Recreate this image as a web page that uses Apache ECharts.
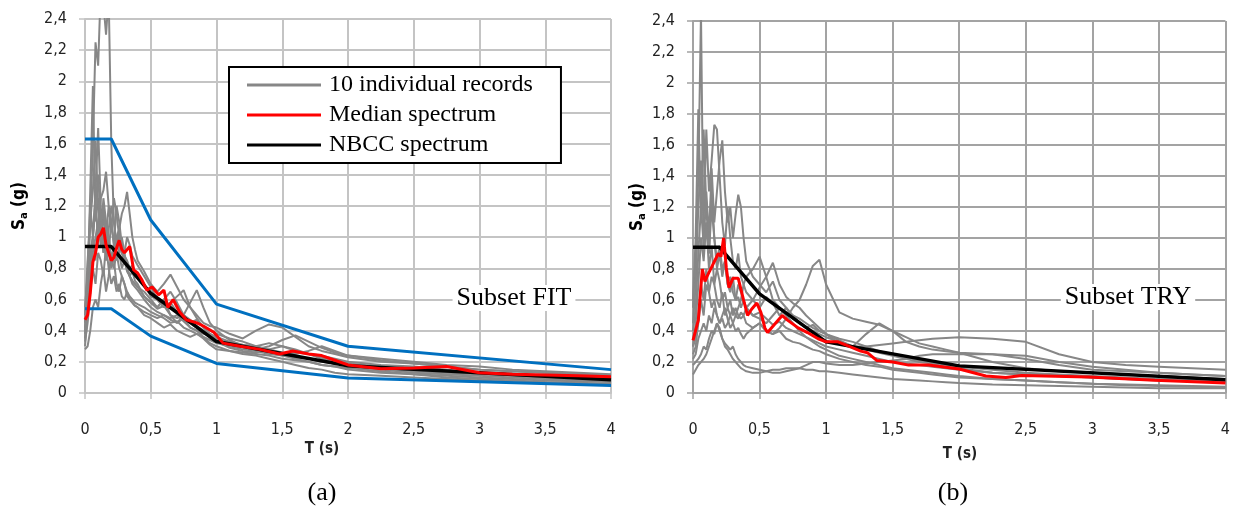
<!DOCTYPE html>
<html>
<head>
<meta charset="UTF-8">
<title>spectra</title>
<script src="https://cdn.jsdelivr.net/npm/echarts@6/dist/echarts.min.js"></script>
<style>
  body { margin: 0; padding: 0; background: #fff; }
  #app { width: 1233px; height: 508px; }
</style>
</head>
<body>
<div id="app"></div>
<script>
// periods (s) shared by the individual records
var periods = [
  0, 0.02, 0.04, 0.06, 0.08, 0.1, 0.12, 0.14, 0.16, 0.18, 0.2, 0.22, 0.24, 0.26, 0.28, 0.3, 0.32, 0.34, 0.36, 0.38, 0.4,
  0.45, 0.5, 0.55, 0.6, 0.65, 0.7, 0.75, 0.8, 0.85, 0.9, 0.95, 1.0,
  1.1, 1.2, 1.3, 1.4, 1.5, 1.6, 1.7, 1.8, 1.9, 2.0,
  2.25, 2.5, 2.75, 3.0, 3.25, 3.5, 3.75, 4.0
];

// (a) subset FIT - 10 individual records, Sa (g)
var fitRecords = [
  [0.42, 0.6, 1.1, 1.6, 2.25, 2.1, 2.6, 2.5, 2.3, 2.55, 1.6, 1.1, 0.95, 1.0, 0.9, 0.85, 0.8, 0.75, 0.78, 0.72, 0.7,
   0.62, 0.58, 0.55, 0.6, 0.5, 0.45, 0.48, 0.42, 0.4, 0.38, 0.37, 0.35,
   0.32, 0.3, 0.28, 0.26, 0.25, 0.23, 0.22, 0.2, 0.19, 0.18,
   0.16, 0.14, 0.13, 0.12, 0.11, 0.1, 0.09, 0.085],
  [0.35, 0.7, 1.3, 1.97, 1.1, 1.25, 1.0, 1.15, 0.9, 1.05, 1.2, 1.1, 0.95, 1.05, 0.9, 0.88, 0.85, 0.8, 0.82, 0.78, 0.75,
   0.7, 0.62, 0.6, 0.55, 0.58, 0.52, 0.48, 0.45, 0.47, 0.42, 0.4, 0.38,
   0.35, 0.33, 0.3, 0.32, 0.3, 0.27, 0.25, 0.24, 0.22, 0.2,
   0.18, 0.17, 0.15, 0.13, 0.12, 0.11, 0.1, 0.09],
  [0.45, 0.8, 1.2, 1.0, 1.3, 1.7, 1.2, 0.9, 1.1, 0.95, 0.8, 0.9, 1.0, 1.05, 1.15, 1.2, 1.29, 1.15, 1.0, 0.92, 0.85,
   0.78, 0.7, 0.65, 0.7, 0.76, 0.68, 0.6, 0.55, 0.5, 0.45, 0.43, 0.42,
   0.38, 0.35, 0.4, 0.44, 0.42, 0.36, 0.3, 0.27, 0.25, 0.23,
   0.2, 0.19, 0.17, 0.15, 0.14, 0.13, 0.12, 0.11],
  [0.5, 0.85, 1.1, 1.3, 1.62, 1.2, 1.0, 1.25, 1.1, 1.0, 0.85, 0.95, 1.2, 1.1, 0.95, 0.9, 1.0, 0.95, 0.88, 0.85, 0.82,
   0.75, 0.68, 0.6, 0.55, 0.58, 0.62, 0.66, 0.55, 0.48, 0.42, 0.38, 0.35,
   0.32, 0.3, 0.28, 0.3, 0.34, 0.37, 0.33, 0.29, 0.26, 0.24,
   0.22, 0.2, 0.18, 0.17, 0.15, 0.14, 0.13, 0.12],
  [0.3, 0.5, 0.7, 0.9, 1.0, 1.1, 1.25, 1.3, 1.42, 1.2, 1.1, 0.95, 1.0, 0.9, 0.8, 0.85, 0.78, 0.75, 0.7, 0.68, 0.66,
   0.6, 0.55, 0.52, 0.5, 0.48, 0.5, 0.46, 0.42, 0.4, 0.36, 0.34, 0.32,
   0.3, 0.28, 0.27, 0.25, 0.24, 0.26, 0.25, 0.23, 0.21, 0.19,
   0.17, 0.15, 0.14, 0.13, 0.12, 0.11, 0.1, 0.095],
  [0.28, 0.3, 0.4, 0.55, 0.6, 0.55, 0.7, 0.8, 0.65, 0.75, 0.9, 0.85, 0.7, 0.65, 0.75, 0.7, 0.62, 0.6, 0.58, 0.56, 0.55,
   0.5, 0.48, 0.45, 0.42, 0.44, 0.4, 0.38, 0.36, 0.38, 0.35, 0.31, 0.28,
   0.27, 0.26, 0.25, 0.24, 0.22, 0.21, 0.2, 0.18, 0.17, 0.16,
   0.14, 0.12, 0.11, 0.1, 0.09, 0.08, 0.075, 0.07],
  [0.38, 0.55, 0.8, 1.0, 1.25, 0.95, 1.15, 0.9, 1.0, 1.2, 1.05, 1.25, 1.15, 1.0, 0.9, 0.85, 0.8, 0.75, 0.72, 0.7, 0.68,
   0.65, 0.6, 0.55, 0.6, 0.65, 0.58, 0.5, 0.47, 0.43, 0.4, 0.38, 0.36,
   0.33, 0.31, 0.3, 0.28, 0.26, 0.25, 0.27, 0.3, 0.27, 0.24,
   0.21, 0.19, 0.17, 0.15, 0.14, 0.13, 0.12, 0.11],
  [0.33, 0.45, 0.65, 0.8, 0.7, 0.9, 0.85, 0.75, 0.95, 0.8, 0.7, 0.75, 0.65, 0.7, 0.62, 0.6, 0.65, 0.6, 0.58, 0.56, 0.55,
   0.52, 0.5, 0.48, 0.5, 0.47, 0.45, 0.5, 0.58, 0.66, 0.55, 0.45, 0.4,
   0.34, 0.3, 0.28, 0.26, 0.24, 0.22, 0.2, 0.18, 0.17, 0.15,
   0.13, 0.12, 0.1, 0.09, 0.08, 0.07, 0.065, 0.06],
  [0.55, 0.75, 0.9, 1.0, 0.85, 1.1, 0.95, 1.05, 0.85, 0.9, 1.1, 0.95, 0.85, 0.9, 1.0, 0.9, 0.8, 0.75, 0.72, 0.7, 0.68,
   0.62, 0.58, 0.54, 0.56, 0.5, 0.48, 0.5, 0.46, 0.42, 0.4, 0.37, 0.33,
   0.29, 0.27, 0.26, 0.28, 0.3, 0.28, 0.25, 0.22, 0.2, 0.17,
   0.15, 0.13, 0.12, 0.11, 0.1, 0.09, 0.08, 0.075],
  [0.4, 0.6, 0.85, 1.0, 1.2, 1.4, 1.1, 1.2, 0.9, 1.0, 0.85, 0.8, 0.9, 0.8, 0.75, 0.7, 0.65, 0.62, 0.6, 0.58, 0.57,
   0.55, 0.52, 0.5, 0.48, 0.45, 0.46, 0.42, 0.4, 0.38, 0.36, 0.32, 0.3,
   0.27, 0.25, 0.24, 0.22, 0.2, 0.18, 0.16, 0.15, 0.13, 0.12,
   0.11, 0.1, 0.09, 0.08, 0.07, 0.065, 0.06, 0.055]
];

// (b) subset TRY - 10 individual records, Sa (g)
var tryRecords = [
  [0.55, 0.9, 1.4, 2.45, 0.9, 1.1, 0.8, 0.95, 0.7, 0.8, 0.72, 0.6, 0.65, 0.55, 0.6, 0.5, 0.55, 0.5, 0.48, 0.5, 0.45,
   0.42, 0.45, 0.4, 0.38, 0.4, 0.35, 0.33, 0.32, 0.3, 0.28, 0.27, 0.25,
   0.22, 0.2, 0.18, 0.17, 0.15, 0.14, 0.13, 0.12, 0.11, 0.1,
   0.09, 0.08, 0.07, 0.06, 0.055, 0.05, 0.045, 0.04],
  [0.6, 1.0, 1.83, 1.1, 1.7, 1.2, 0.9, 1.35, 1.0, 0.8, 0.9, 0.75, 0.85, 0.7, 0.65, 0.75, 0.6, 0.62, 0.55, 0.6, 0.55,
   0.5, 0.52, 0.48, 0.44, 0.46, 0.42, 0.4, 0.38, 0.36, 0.34, 0.32, 0.3,
   0.28, 0.26, 0.24, 0.22, 0.2, 0.19, 0.18, 0.17, 0.16, 0.15,
   0.13, 0.12, 0.11, 0.1, 0.09, 0.085, 0.08, 0.075],
  [0.45, 0.7, 1.2, 1.5, 1.1, 1.7, 1.3, 1.5, 1.73, 1.7, 1.4, 1.1, 0.95, 1.2, 1.0, 0.85, 0.8, 0.9, 0.75, 0.7, 0.65,
   0.6, 0.55, 0.62, 0.58, 0.5, 0.55, 0.48, 0.45, 0.42, 0.44, 0.4, 0.38,
   0.35, 0.33, 0.3, 0.27, 0.25, 0.23, 0.21, 0.2, 0.18, 0.17,
   0.15, 0.13, 0.12, 0.11, 0.1, 0.09, 0.085, 0.08],
  [0.4, 0.55, 0.9, 1.2, 0.95, 1.3, 1.0, 1.45, 1.1, 1.3, 1.5, 1.63, 1.3, 1.1, 1.2, 1.0, 1.15, 1.28, 1.2, 1.0, 0.85,
   0.75, 0.7, 0.65, 0.72, 0.6, 0.55, 0.5, 0.48, 0.45, 0.42, 0.4, 0.38,
   0.34, 0.3, 0.28, 0.26, 0.24, 0.22, 0.2, 0.19, 0.17, 0.16,
   0.13, 0.12, 0.11, 0.1, 0.09, 0.08, 0.075, 0.07],
  [0.25, 0.3, 0.45, 0.6, 0.5, 0.7, 0.65, 0.55, 0.6, 0.5, 0.45, 0.5, 0.55, 0.48, 0.42, 0.45, 0.4, 0.42, 0.38, 0.35, 0.38,
   0.42, 0.45, 0.4, 0.38, 0.42, 0.48, 0.55, 0.6, 0.7, 0.82, 0.86, 0.7,
   0.52, 0.48, 0.46, 0.44, 0.4, 0.36, 0.32, 0.3, 0.28, 0.26,
   0.2, 0.16, 0.14, 0.13, 0.12, 0.11, 0.1, 0.09],
  [0.3, 0.35, 0.5, 0.7, 0.6, 0.8, 0.65, 0.75, 0.7, 0.6, 0.55, 0.65, 0.5, 0.55, 0.5, 0.45, 0.5, 0.55, 0.6, 0.7, 0.75,
   0.8, 0.88, 0.75, 0.6, 0.55, 0.52, 0.5, 0.45, 0.42, 0.4, 0.38, 0.36,
   0.33, 0.3, 0.38, 0.45, 0.4, 0.33, 0.3, 0.28, 0.27, 0.26,
   0.25, 0.24, 0.2, 0.17, 0.15, 0.13, 0.12, 0.11],
  [0.22, 0.25, 0.35, 0.4, 0.45, 0.4, 0.5, 0.45, 0.55, 0.5, 0.45, 0.48, 0.42, 0.45, 0.5, 0.55, 0.5, 0.48, 0.52, 0.5, 0.55,
   0.6, 0.68, 0.75, 0.84, 0.7, 0.62, 0.58, 0.55, 0.5, 0.46, 0.42, 0.38,
   0.32, 0.3, 0.3, 0.31, 0.32, 0.33, 0.34, 0.35, 0.355, 0.36,
   0.35, 0.33, 0.25, 0.2, 0.18, 0.17, 0.16, 0.15],
  [0.12, 0.15, 0.18, 0.2, 0.22, 0.25, 0.3, 0.35, 0.4, 0.45, 0.42, 0.35, 0.3, 0.28, 0.25, 0.22, 0.2, 0.18, 0.16, 0.15, 0.14,
   0.13, 0.13, 0.14, 0.15, 0.15, 0.16, 0.16, 0.16, 0.15, 0.15, 0.14, 0.14,
   0.13, 0.12, 0.11, 0.1, 0.09, 0.085, 0.08, 0.075, 0.07, 0.065,
   0.055, 0.05, 0.045, 0.04, 0.035, 0.03, 0.03, 0.03],
  [0.18, 0.2, 0.22, 0.25, 0.3, 0.28, 0.35, 0.4, 0.38, 0.45, 0.4, 0.35, 0.32, 0.3, 0.28, 0.3, 0.25, 0.22, 0.2, 0.18, 0.17,
   0.16, 0.15, 0.14, 0.13, 0.13, 0.14, 0.15, 0.16, 0.18, 0.2, 0.2, 0.19,
   0.18, 0.18, 0.19, 0.2, 0.21, 0.22, 0.24, 0.25, 0.25, 0.25,
   0.25, 0.22, 0.18, 0.15, 0.14, 0.13, 0.12, 0.11],
  [0.3, 0.45, 0.7, 1.0, 0.85, 1.1, 0.9, 1.2, 1.0, 0.85, 0.95, 0.8, 0.85, 0.7, 0.75, 0.65, 0.6, 0.7, 0.65, 0.6, 0.55,
   0.5, 0.48, 0.45, 0.5, 0.55, 0.5, 0.45, 0.4, 0.36, 0.33, 0.3, 0.28,
   0.24, 0.22, 0.2, 0.18, 0.16, 0.15, 0.14, 0.13, 0.12, 0.11,
   0.09, 0.08, 0.07, 0.06, 0.05, 0.045, 0.04, 0.035]
];

// median spectra [T, Sa]
var fitMedian = [[0, 0.47], [0.02, 0.5], [0.04, 0.64], [0.06, 0.84], [0.08, 0.9], [0.1, 1.0], [0.12, 1.02], [0.14, 1.06],
  [0.16, 0.95], [0.18, 0.9], [0.2, 0.85], [0.22, 0.87], [0.24, 0.93], [0.26, 0.98], [0.28, 0.92], [0.3, 0.9],
  [0.32, 0.92], [0.34, 0.94], [0.37, 0.79], [0.4, 0.77], [0.43, 0.73], [0.47, 0.66], [0.51, 0.68], [0.56, 0.63],
  [0.6, 0.66], [0.63, 0.55], [0.67, 0.6], [0.72, 0.52], [0.77, 0.47], [0.85, 0.45], [0.9, 0.43], [0.98, 0.39],
  [1.05, 0.32], [1.18, 0.3], [1.33, 0.28], [1.48, 0.25], [1.58, 0.27], [1.7, 0.25], [1.8, 0.24], [1.9, 0.21],
  [2.0, 0.18], [2.1, 0.17], [2.25, 0.155], [2.5, 0.16], [2.75, 0.17], [3.0, 0.13], [3.25, 0.12], [3.5, 0.115],
  [3.75, 0.11], [4.0, 0.105]];
var tryMedian = [[0, 0.34], [0.04, 0.47], [0.07, 0.8], [0.09, 0.72], [0.11, 0.76], [0.15, 0.83], [0.19, 0.9],
  [0.21, 0.88], [0.23, 1.0], [0.25, 0.81], [0.27, 0.68], [0.3, 0.74], [0.34, 0.74], [0.38, 0.6], [0.41, 0.5],
  [0.44, 0.54], [0.48, 0.58], [0.51, 0.52], [0.54, 0.42], [0.56, 0.39], [0.61, 0.44], [0.67, 0.5], [0.71, 0.47],
  [0.79, 0.42], [0.86, 0.39], [0.94, 0.35], [1.0, 0.33], [1.09, 0.33], [1.16, 0.305], [1.26, 0.27], [1.31, 0.26],
  [1.38, 0.21], [1.5, 0.2], [1.62, 0.18], [1.77, 0.18], [2.0, 0.155], [2.2, 0.11], [2.35, 0.1], [2.47, 0.113],
  [2.97, 0.104], [3.47, 0.082], [4.0, 0.065]];

// NBCC design spectrum and the FIT bounds
var nbccT = [0, 0.2, 0.5, 1.0, 2.0, 4.0];
var nbccSa = [0.94, 0.94, 0.64, 0.33, 0.175, 0.085];
var upperSa = [1.63, 1.63, 1.11, 0.57, 0.3, 0.15];
var lowerSa = [0.54, 0.54, 0.365, 0.19, 0.097, 0.048];

var xTicks = [0, 0.5, 1, 1.5, 2, 2.5, 3, 3.5, 4];

var chart = echarts.init(document.getElementById('app'));

var tickFont = '"DejaVu Sans Condensed", "Liberation Sans Narrow", sans-serif';
var serif = '"Liberation Serif", "Times New Roman", serif';
function comma(v) { return String(v).replace('.', ','); }

function xAx(i, col) {
  return {
    type: 'value', gridIndex: i, min: xTicks[0], max: xTicks[xTicks.length - 1], interval: 0.5,
    axisLine: { lineStyle: { color: col, width: 2 } },
    axisTick: { show: true, length: 6, lineStyle: { color: col, width: 1.5 } },
    axisLabel: { margin: 29, fontSize: 16, color: '#222', fontFamily: tickFont, formatter: comma },
    splitLine: { show: true, lineStyle: { color: col, width: 2 } }
  };
}
function yAx(i, col) {
  return {
    type: 'value', gridIndex: i, min: 0, max: 2.4, interval: 0.2,
    axisLine: { show: true, lineStyle: { color: col, width: 2 } },
    axisTick: { show: true, length: 6, lineStyle: { color: col, width: 1.5 } },
    axisLabel: { margin: 18, fontSize: 16, color: '#222', fontFamily: tickFont, formatter: comma },
    splitLine: { show: true, lineStyle: { color: col, width: 2 } }
  };
}

var series = [];
function addLine(name, data, gi, color, width, z) {
  series.push({
    name: name, type: 'line', xAxisIndex: gi, yAxisIndex: gi, data: data,
    symbol: 'none', lineStyle: { color: color, width: width }, itemStyle: { color: color },
    z: z, silent: true, animation: false
  });
}
function onPeriods(rec) { return periods.map(function (t, i) { return [t, rec[i]]; }); }
function onNbcc(sa) { return nbccT.map(function (t, i) { return [t, sa[i]]; }); }

fitRecords.forEach(function (r) { addLine('10 individual records', onPeriods(r), 0, '#878787', 2, 2); });
tryRecords.forEach(function (r) { addLine('10 individual records', onPeriods(r), 1, '#878787', 2, 2); });
addLine('upper', onNbcc(upperSa), 0, '#0070c0', 3, 3);
addLine('lower', onNbcc(lowerSa), 0, '#0070c0', 3, 3);
addLine('NBCC spectrum', onNbcc(nbccSa), 0, '#000000', 3.5, 4);
addLine('NBCC spectrum', onNbcc(nbccSa), 1, '#000000', 3.5, 4);
addLine('Median spectrum', fitMedian, 0, '#ff0000', 3, 5);
addLine('Median spectrum', tryMedian, 1, '#ff0000', 3, 5);

var saRich = {
  s: { fontSize: 17, fontWeight: 'bold', fontFamily: tickFont, color: '#222' },
  sub: { fontSize: 11, fontWeight: 'bold', fontFamily: tickFont, color: '#222', padding: [8, 0, 0, 0] }
};

chart.setOption({
  animation: false,
  grid: [
    { left: 85, top: 19, width: 526, height: 374 },
    { left: 693, top: 21, width: 535, height: 372 }
  ],
  xAxis: [xAx(0, '#c4c4c4'), xAx(1, '#a3a3a3')],
  yAxis: [yAx(0, '#c4c4c4'), yAx(1, '#a3a3a3')],
  legend: {
    data: ['10 individual records', 'Median spectrum', 'NBCC spectrum'],
    orient: 'vertical', left: 229, top: 67,
    icon: 'rect', itemWidth: 74, itemHeight: 3, itemGap: 6,
    padding: [6, 28, 6, 18],
    borderColor: '#000', borderWidth: 2, backgroundColor: '#fff',
    textStyle: { fontFamily: serif, fontSize: 24, color: '#000', padding: [0, 0, 0, 3] },
    selectedMode: false
  },
  graphic: [
    { type: 'text', x: 20, y: 206, rotation: Math.PI / 2, z: 10,
      style: { text: '{s|S}{sub|a}{s| (g)}', rich: saRich, align: 'center', verticalAlign: 'middle' } },
    { type: 'text', x: 638, y: 207, rotation: Math.PI / 2, z: 10,
      style: { text: '{s|S}{sub|a}{s| (g)}', rich: saRich, align: 'center', verticalAlign: 'middle' } },
    { type: 'text', x: 322, y: 449, z: 10,
      style: { text: 'T (s)', font: 'bold 15px ' + tickFont, fill: '#222', align: 'center', verticalAlign: 'middle' } },
    { type: 'text', x: 960, y: 454, z: 10,
      style: { text: 'T (s)', font: 'bold 15px ' + tickFont, fill: '#222', align: 'center', verticalAlign: 'middle' } },
    { type: 'text', x: 514, y: 298, z: 10,
      style: { text: 'Subset FIT', font: '26px ' + serif, fill: '#000', align: 'center', verticalAlign: 'middle',
        backgroundColor: '#fff', padding: [0, 4] } },
    { type: 'text', x: 1128, y: 297, z: 10,
      style: { text: 'Subset TRY', font: '26px ' + serif, fill: '#000', align: 'center', verticalAlign: 'middle',
        backgroundColor: '#fff', padding: [0, 4] } },
    { type: 'text', x: 322, y: 493, z: 10,
      style: { text: '(a)', font: '26px ' + serif, fill: '#000', align: 'center', verticalAlign: 'middle' } },
    { type: 'text', x: 953, y: 493, z: 10,
      style: { text: '(b)', font: '26px ' + serif, fill: '#000', align: 'center', verticalAlign: 'middle' } }
  ],
  series: series
});
</script>
</body>
</html>
